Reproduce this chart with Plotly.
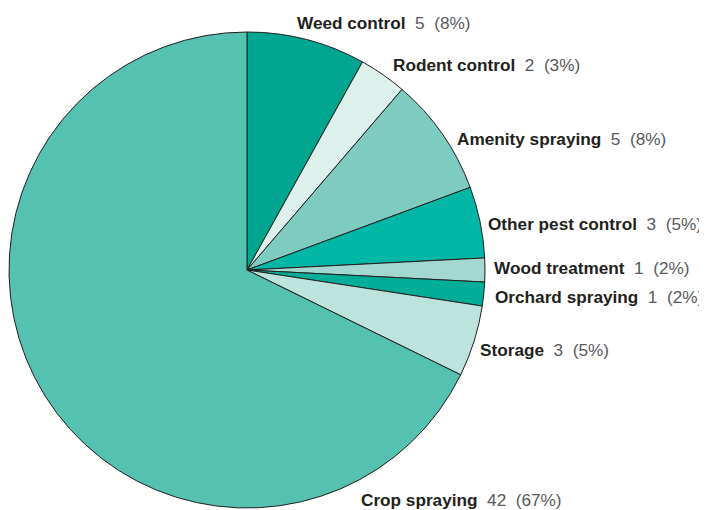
import math
import plotly.graph_objects as go

# ---- data ----
categories = ["Weed control", "Rodent control", "Amenity spraying", "Other pest control",
              "Wood treatment", "Orchard spraying", "Storage", "Crop spraying"]
values = [5, 2, 5, 3, 1, 1, 3, 42]
percents = ["8%", "3%", "8%", "5%", "2%", "2%", "5%", "67%"]

# ---- style ----
colors = ["#00a690", "#dcf0ec", "#7ecbbf", "#00b6a4", "#a3d8d0", "#00ae98", "#bce3dc", "#55c1b1"]
PAGE_OFF = 8  # default body margin of the html page
W, H = 707 - PAGE_OFF, 510 - PAGE_OFF
CX, CY, R = 247 - PAGE_OFF, 270 - PAGE_OFF, 238
# label placement: angle offset from slice middle (deg) and radial distance (px)
label_angle_offset = [-3.5, 0.2, 2.7, 0.6, -0.5, 0.4, 1.6, -84.0]
label_radius = [252, 250, 246, 243, 245, 247, 244, 256]

fig = go.Figure()
fig.add_trace(go.Pie(
    labels=categories, values=values, sort=False, direction="clockwise", rotation=0,
    marker=dict(colors=colors, line=dict(color="#231f20", width=1)),
    textinfo="none", hoverinfo="label+value+percent", showlegend=False,
    domain=dict(x=[(CX - R) / W, (CX + R) / W], y=[(H - CY - R) / H, (H - CY + R) / H]),
))

total = sum(values)
cum = 0
annotations = []
sp = "\u00a0\u00a0"
for i, (c, v, p) in enumerate(zip(categories, values, percents)):
    mid = (cum + v / 2) / total * 360
    cum += v
    a = math.radians(mid + label_angle_offset[i])
    px = CX + label_radius[i] * math.sin(a)
    py = CY - label_radius[i] * math.cos(a)
    txt = (f"<b>{c}</b>{sp}<span style='color:#58595b'>{v}{sp}({p})</span>")
    annotations.append(dict(
        x=px / W, y=1 - py / H, xref="paper", yref="paper", text=txt, showarrow=False,
        xanchor="left", yanchor="middle",
        font=dict(family="Liberation Sans, Arial, sans-serif", size=17.2, color="#231f20"),
    ))

fig.update_layout(
    width=W, height=H, margin=dict(l=0, r=0, t=0, b=0),
    paper_bgcolor="white", plot_bgcolor="white",
    annotations=annotations,
)
fig.write_html("out.html")
